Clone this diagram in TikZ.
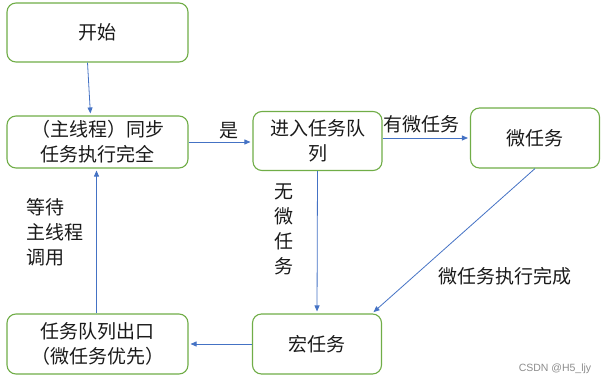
\documentclass[tikz,border=0pt]{standalone}
\usepackage{fontspec}
\newfontfamily\cjk{Noto Sans CJK SC}
\setsansfont{Liberation Sans}
\usetikzlibrary{positioning, arrows.meta, calc}
\definecolor{boxline}{HTML}{70AD47}
\definecolor{arrline}{HTML}{4472C4}
\definecolor{txtcol}{HTML}{1A1A1A}
\tikzset{
  base/.style={
    draw=boxline,
    fill=white,
    rounded corners=9pt,
    align=center,
    font=\cjk\fontsize{19}{25}\selectfont,
    text=txtcol,
    inner sep=0pt,
    line width=1.1pt,
  },
  box/.style={base, minimum width=181pt, minimum height=59pt},
  sbox/.style={base, minimum width=129pt, minimum height=60pt},
  arr/.style={-{Triangle[length=6pt, width=5pt]}, arrline, line width=0.8pt, shorten >=2pt},
  lbl/.style={font=\cjk\fontsize{19}{25}\selectfont, text=txtcol, inner sep=0pt, align=center},
}

\begin{document}
\begin{tikzpicture}[x=1pt, y=-1pt]
\useasboundingbox (0,0) rectangle (609,385);

% Boxes
\node[box] (start) at (97.5,32.5) {开始};
\node[box, minimum height=52pt] (main) at (97.5,142) {（主线程）同步\\任务执行完全};
\node[sbox, minimum height=59pt] (enter) at (317.5,141) {进入任务队\\列};
\node[sbox] (micro) at (535,138) {微任务};
\node[sbox] (macro) at (317,344) {宏任务};
\node[box, minimum height=60pt] (exit) at (97.5,344) {任务队列出口\\（微任务优先）};

% Labels
\node[lbl] (yes) at (229,131) {是};
\node[lbl] (hasmicro) at (421,124) {有微任务};
\node[lbl] (nomicro) at (284,229) {无\\微\\任\\务};
\node[lbl, align=left, anchor=west] (wait) at (26,232) {等待\\主线程\\调用};
\node[lbl] (microdone) at (505,276) {微任务执行完成};
\node[font=\sffamily\fontsize{10.5}{12}\selectfont, text=black!45, inner sep=0pt] (mark) at (555,369) {CSDN @H5\_ljy};

% Arrows
\draw[arr] ([xshift=-10pt]start.south) -- ([xshift=-7pt]main.north);
\draw[arr] (main.east) -- (main.east -| enter.west);
\draw[arr] (enter.east |- micro.west) -- (micro.west);
\draw[arr] (enter.south) -- (macro.north);
\draw[arr] (micro.south) -- ([xshift=-10pt]macro.north east);
\draw[arr] (macro.west) -- (exit.east);
\draw[arr] ([xshift=-1pt]exit.north) -- ([xshift=-1pt]main.south);

\end{tikzpicture}
\end{document}
